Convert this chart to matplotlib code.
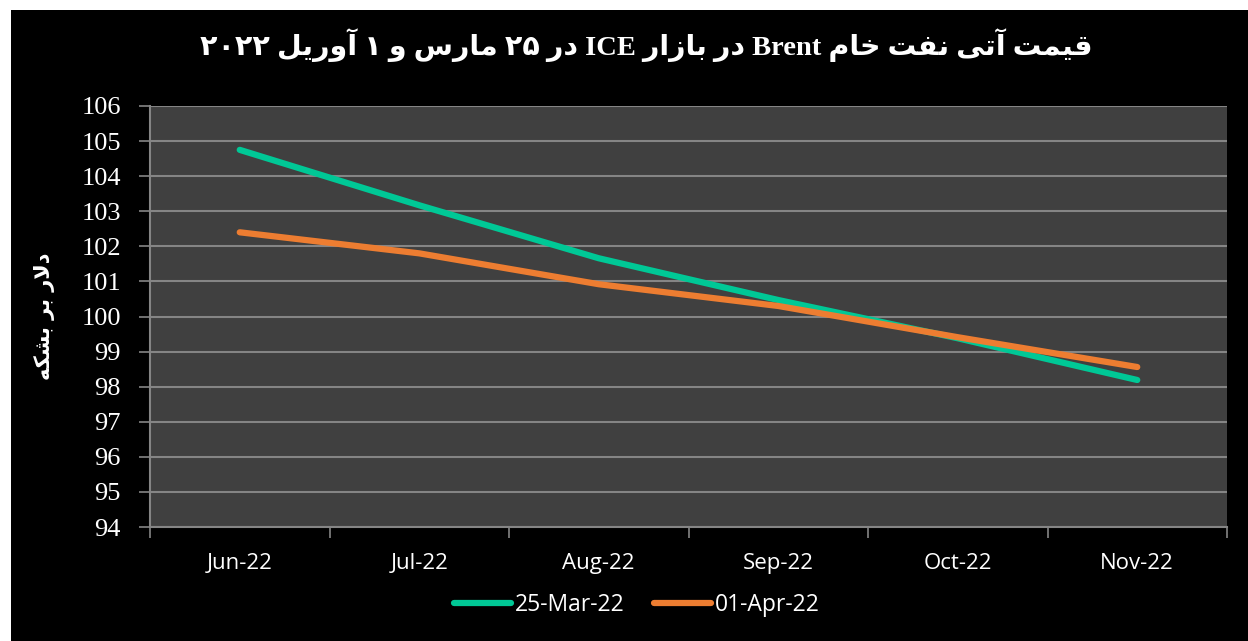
import numpy as np
import matplotlib.pyplot as plt
from matplotlib.patches import Rectangle

# data
months = ["Jun-22", "Jul-22", "Aug-22", "Sep-22", "Oct-22", "Nov-22"]
mar25 = [104.75, 103.17, 101.66, 100.47, 99.38, 98.19]
apr01 = [102.40, 101.80, 100.92, 100.30, 99.41, 98.56]

title_fa = "قیمت آتی نفت خام Brent در بازار ICE در ۲۵ مارس و ۱ آوریل ۲۰۲۲"
ylabel_fa = "دلار بر بشکه"

# simple arabic/persian shaping (matplotlib does no shaping or bidi)
forms = {
    "ا": (0xFE8D, 0xFE8E, None, None), "آ": (0xFE81, 0xFE82, None, None),
    "ب": (0xFE8F, 0xFE90, 0xFE91, 0xFE92), "ت": (0xFE95, 0xFE96, 0xFE97, 0xFE98),
    "خ": (0xFEA5, 0xFEA6, 0xFEA7, 0xFEA8), "د": (0xFEA9, 0xFEAA, None, None),
    "ر": (0xFEAD, 0xFEAE, None, None), "ز": (0xFEAF, 0xFEB0, None, None),
    "س": (0xFEB1, 0xFEB2, 0xFEB3, 0xFEB4), "ش": (0xFEB5, 0xFEB6, 0xFEB7, 0xFEB8),
    "ف": (0xFED1, 0xFED2, 0xFED3, 0xFED4), "ق": (0xFED5, 0xFED6, 0xFED7, 0xFED8),
    "ل": (0xFEDD, 0xFEDE, 0xFEDF, 0xFEE0), "م": (0xFEE1, 0xFEE2, 0xFEE3, 0xFEE4),
    "ن": (0xFEE5, 0xFEE6, 0xFEE7, 0xFEE8), "ه": (0xFEE9, 0xFEEA, 0xFEEB, 0xFEEC),
    "و": (0xFEED, 0xFEEE, None, None), "ی": (0xFBFC, 0xFBFD, 0xFBFE, 0xFBFF),
    "ک": (0xFB8E, 0xFB8F, 0xFB90, 0xFB91),
    "لا": (0xFEFB, 0xFEFC, None, None),
}


def shape_word(w):
    w = list(w)
    # lam-alef ligature
    letters = []
    i = 0
    while i < len(w):
        if w[i] == "ل" and i + 1 < len(w) and w[i + 1] == "ا":
            letters.append("لا")
            i += 2
        else:
            letters.append(w[i])
            i += 1
    out = []
    for k, ch in enumerate(letters):
        if ch not in forms:
            out.append(ch)
            continue
        f = forms[ch]
        prev = letters[k - 1] if k > 0 else None
        nxt = letters[k + 1] if k + 1 < len(letters) else None
        join_prev = prev in forms and forms[prev][2] is not None
        join_next = nxt in forms and f[2] is not None
        if join_prev and join_next:
            code = f[3]
        elif join_prev:
            code = f[1]
        elif join_next:
            code = f[2]
        else:
            code = f[0]
        out.append(chr(code))
    return "".join(out[::-1])


def rtl(text):
    words = text.split(" ")
    res = []
    for w in words[::-1]:
        if any(c in forms for c in w):
            res.append(shape_word(w))
        else:
            res.append(w)
    return " ".join(res)


W, H = 1248, 641
fig = plt.figure(figsize=(W / 100, H / 100), dpi=100)
fig.patch.set_facecolor("black")
# thin white strips on the left and top edges
fig.patches.append(Rectangle((0, 0), 11 / W, 1, transform=fig.transFigure,
                             facecolor="white", edgecolor="none", zorder=-10))
fig.patches.append(Rectangle((0, 1 - 10 / H), 1, 10 / H, transform=fig.transFigure,
                             facecolor="white", edgecolor="none", zorder=-10))

ax = fig.add_axes([150 / W, 1 - 527 / H, (1227 - 150) / W, (527 - 106) / H])
ax.set_facecolor("#404040")

x = np.arange(len(months))
ax.plot(x, mar25, color="#00c896", lw=4.5, solid_capstyle="round", label="25-Mar-22", zorder=3)
ax.plot(x, apr01, color="#ed7d31", lw=4.5, solid_capstyle="round", label="01-Apr-22", zorder=3)

ax.set_xlim(-0.5, len(months) - 0.5)
ax.set_ylim(94, 106)
ax.set_yticks(range(94, 107))
ax.grid(axis="y", color="#858585", lw=1.5)
ax.set_axisbelow(True)

ax.set_xticks(x)
ax.set_xticklabels(months, family="Open Sans", fontsize=16, color="white")
ax.set_xticks(np.arange(-0.5, len(months)), minor=True)
ax.tick_params(axis="x", which="major", length=0, pad=19)
ax.tick_params(axis="x", which="minor", length=8, color="#858585", width=1.2)
ax.tick_params(axis="y", length=8, color="#858585", width=1.2, pad=13)
for lab in ax.get_yticklabels():
    lab.set_family("Liberation Serif")
    lab.set_fontsize(19)
    lab.set_color("white")

for s in ["top", "right"]:
    ax.spines[s].set_visible(False)
for s in ["left", "bottom"]:
    ax.spines[s].set_color("#858585")
    ax.spines[s].set_linewidth(1.5)

fig.text(45 / W, 1 - 316 / H, rtl(ylabel_fa), rotation=90, ha="center", va="center",
         family=["DejaVu Sans"], fontsize=15, fontweight="bold", color="white")

fig.text(646 / W, 1 - 45 / H, rtl(title_fa), ha="center", va="center",
         family=["Liberation Serif", "DejaVu Sans"], fontsize=20.5, fontweight="bold", color="white")

leg = ax.legend(loc="center", bbox_to_anchor=(0.452, -0.185), ncol=2, frameon=False,
                prop={"family": "Open Sans", "size": 16.5}, handlelength=2.5,
                handletextpad=0.15, columnspacing=1.3)
for t in leg.get_texts():
    t.set_color("white")

fig.savefig("out.png", dpi=100, facecolor=fig.get_facecolor())
